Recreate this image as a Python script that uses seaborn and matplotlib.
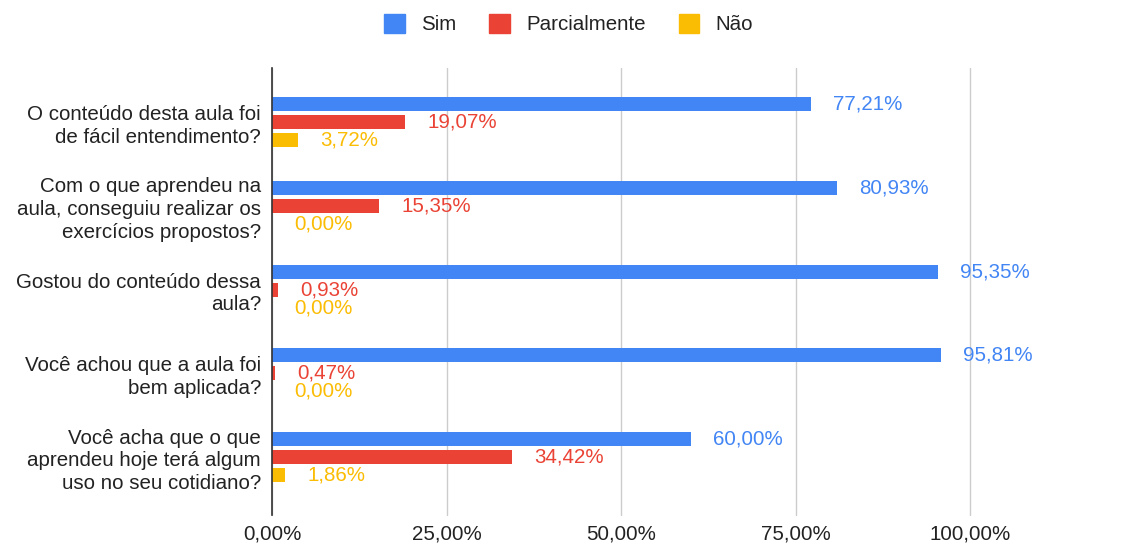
import pandas as pd
import seaborn as sns
from matplotlib import pyplot as plt
from matplotlib.ticker import FuncFormatter


questions = [
    'O conteúdo desta aula foi\nde fácil entendimento?',
    'Com o que aprendeu na\naula, conseguiu realizar os\nexercícios propostos?',
    'Gostou do conteúdo dessa\naula?',
    'Você achou que a aula foi\nbem aplicada?',
    'Você acha que o que\naprendeu hoje terá algum\nuso no seu cotidiano?',
]
answers = ['Sim', 'Parcialmente', 'Não']
sim = [77.21, 80.93, 95.35, 95.81, 60.00]
parcialmente = [19.07, 15.35, 0.93, 0.47, 34.42]
nao = [3.72, 0.00, 0.00, 0.00, 1.86]
colors = ['#4285F4', '#EA4335', '#FBBC04']


def pct(v):
    return f'{v:.2f}'.replace('.', ',') + '%'


rows = []
for series, name in zip([sim, parcialmente, nao], answers):
    for q, v in zip(questions, series):
        rows.append({'pergunta': q, 'resposta': name, 'valor': v})
df = pd.DataFrame(rows)

sns.set_style('white')
plt.rcParams['font.family'] = ['Liberation Sans', 'DejaVu Sans']
fs = 14.8

fig = plt.figure(figsize=(11.37, 5.45), dpi=100)
ax = fig.add_axes([272 / 1137, 1 - 515 / 545, (970 - 272) / 1137, (515 - 68) / 545])

sns.barplot(data=df, y='pergunta', x='valor', hue='resposta', orient='h',
            palette=colors, width=0.645, gap=0.22, ax=ax, legend=False,
            saturation=1, edgecolor='none')

for container, col in zip(ax.containers, colors):
    for bar in container:
        w = bar.get_width()
        ax.annotate(pct(w), (w, bar.get_y() + bar.get_height() / 2),
                    xytext=(16, 0), textcoords='offset points',
                    ha='left', va='center', color=col, fontsize=fs,
                    annotation_clip=False)

ax.set_xlim(0, 100)
ax.set_ylim(4.692, -0.645)
ax.set_xticks([0, 25, 50, 75, 100])
ax.xaxis.set_major_formatter(FuncFormatter(lambda v, p: pct(v)))
ax.grid(axis='x', color='#cccccc', linewidth=1)
for gl in ax.get_xgridlines():
    gl.set_clip_on(False)
ax.set_axisbelow(True)
ax.tick_params(axis='x', length=0, pad=7, labelsize=fs, labelcolor='#222222')
ax.tick_params(axis='y', length=0, pad=8, labelsize=fs, labelcolor='#222222')
for lab in ax.get_yticklabels():
    lab.set_horizontalalignment('right')
    lab.set_multialignment('right')
    lab.set_linespacing(1.25)
ax.set_xlabel('')
ax.set_ylabel('')
for s in ['top', 'right', 'bottom']:
    ax.spines[s].set_visible(False)
ax.spines['left'].set_color('#333333')
ax.spines['left'].set_linewidth(1.2)

handles = [plt.Rectangle((0, 0), 1, 1, color=c) for c in colors]
fig.legend(handles, answers, loc='upper center', bbox_to_anchor=(0.5, 1.008),
           ncol=3, frameon=False, fontsize=fs, handlelength=1.0, handleheight=1.0,
           columnspacing=1.6, handletextpad=0.8, labelcolor='#222222')

fig.savefig('out.png', dpi=100)
